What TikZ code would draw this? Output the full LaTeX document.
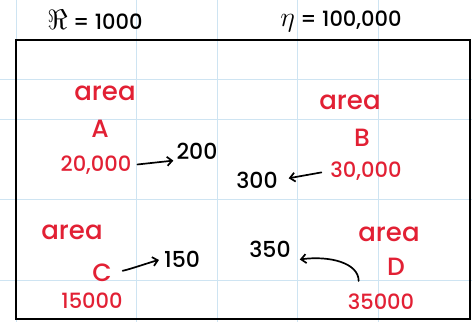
\documentclass[tikz,border=0pt]{standalone}
\usepackage{fontspec}
\usepackage{graphicx}
\setmainfont{Poppins}[UprightFont=* Medium]
\usetikzlibrary{arrows.meta}
\definecolor{inkred}{RGB}{226,32,52}
\definecolor{gridblue}{RGB}{206,228,242}
\begin{document}
\begin{tikzpicture}[x=1pt,y=-1pt,inner sep=1pt,
node font=\fontsize{21}{23}\selectfont,
arealbl/.style={text=inkred,font=\fontsize{26}{28}\selectfont},
letterlbl/.style={text=inkred,font=\fontsize{25}{27}\selectfont},
sizelbl/.style={text=inkred},
samplbl/.style={text=black,font=\fontsize{22}{24}\selectfont},
hand/.style={black,line width=1.7pt,line cap=round,-{Straight Barb[length=5pt,width=9pt]}}]
\useasboundingbox (0,0) rectangle (472,322);
\fill[white] (0,0) rectangle (472,322);
% notebook grid
\foreach \gx in {16,136,217,297,378} \draw[gridblue,line width=0.8pt] (\gx,0) -- (\gx,322);
\foreach \gy in {79,119,199,280} \draw[gridblue,line width=0.8pt] (0,\gy) -- (472,\gy);
\draw[line width=1.6pt] (16,40) rectangle (470,319);
% totals
\node (nsmp) at (95,20) {\scalebox{1.35}{$\Re$} = 1000};
\node (npop) at (341,21) {\scalebox{1.35}{$\eta$} = 100,000};
% area A
\node[arealbl] (Aarea) at (105,93) {area};
\node[letterlbl] (Alet) at (100,129) {A};
\node[sizelbl] (Asize) at (96,165) {20,000};
\node[samplbl] (Asmp) at (197,151) {200};
% area B
\node[arealbl] (Barea) at (350,102) {area};
\node[letterlbl] (Blet) at (362,138) {B};
\node[sizelbl] (Bsize) at (366,171) {30,000};
\node[samplbl] (Bsmp) at (257,180) {300};
% area C
\node[arealbl] (Carea) at (72,232) {area};
\node[letterlbl] (Clet) at (102,273) {C};
\node[sizelbl] (Csize) at (92,301) {15000};
\node[samplbl] (Csmp) at (182,259) {150};
% area D
\node[arealbl] (Darea) at (389,234) {area};
\node[letterlbl] (Dlet) at (396,267) {D};
\node[sizelbl] (Dsize) at (381,302) {35000};
\node[samplbl] (Dsmp) at (270,249) {350};
% allocation arrows
\draw[hand,shorten <=5pt,shorten >=2pt] (Asize.east) -- (Asmp.south west);
\draw[hand,shorten <=8pt,shorten >=10pt] (Bsize.west) -- (Bsmp.east);
\draw[hand,shorten <=10pt,shorten >=4pt] (Clet.east) .. controls +(18,-4) and +(-12,3) .. (Csmp.west);
\draw[hand] ([xshift=12pt,yshift=12pt]Dsize.north west) .. controls +(0,-18) and +(30,-4) .. ([xshift=8pt,yshift=-1pt]Dsmp.south east);
\end{tikzpicture}
\end{document}
